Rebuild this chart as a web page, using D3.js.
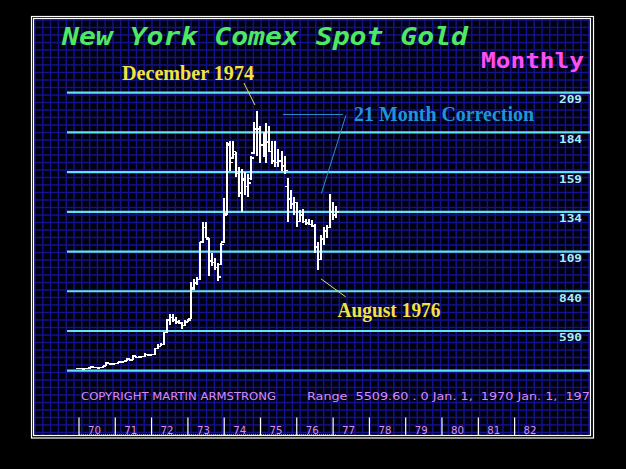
<!DOCTYPE html>
<html>
<head>
<meta charset="utf-8">
<script src="https://cdn.jsdelivr.net/npm/d3@7/dist/d3.min.js"></script>
<style>
  html, body { margin: 0; padding: 0; background: #000; }
  svg { display: block; }
</style>
</head>
<body>
<svg id="chart" width="626" height="469"></svg>
<script>
// ---------------- DATA ----------------
const months = [
  "1970-01","1970-02","1970-03","1970-04","1970-05","1970-06","1970-07","1970-08","1970-09","1970-10","1970-11","1970-12",
  "1971-01","1971-02","1971-03","1971-04","1971-05","1971-06","1971-07","1971-08","1971-09","1971-10","1971-11","1971-12",
  "1972-01","1972-02","1972-03","1972-04","1972-05","1972-06","1972-07","1972-08","1972-09","1972-10","1972-11","1972-12",
  "1973-01","1973-02","1973-03","1973-04","1973-05","1973-06","1973-07","1973-08","1973-09","1973-10","1973-11","1973-12",
  "1974-01","1974-02","1974-03","1974-04","1974-05","1974-06","1974-07","1974-08","1974-09","1974-10","1974-11","1974-12",
  "1975-01","1975-02","1975-03","1975-04","1975-05","1975-06","1975-07","1975-08","1975-09","1975-10","1975-11","1975-12",
  "1976-01","1976-02","1976-03","1976-04","1976-05","1976-06","1976-07","1976-08","1976-09","1976-10","1976-11","1976-12",
  "1977-01","1977-02"
];
const high = [
  35.6,35.5,35.6,35.8,36.7,36.5,36.2,36.1,37.2,39.2,39.0,38.6,
  38.9,39.6,39.8,40.3,41.9,41.5,43.8,43.4,43.0,43.1,44.9,44.5,
  44.4,48.3,51.0,51.6,58.6,66.8,70.0,70.0,67.8,65.8,64.8,65.8,
  66.8,90.0,92.0,93.0,115.3,127.8,127.8,117.3,108.0,104.8,101.7,114.2,
  142.5,178.0,178.8,178.8,171.5,162.0,161.0,159.0,158.0,169.4,190.3,197.5,
  188.0,184.0,190.0,188.0,178.8,178.8,173.6,172.5,169.4,155.5,148.0,143.4,
  140.3,135.0,136.0,129.8,129.8,128.8,126.5,115.0,119.4,124.6,125.7,145.5,
  140.0,137.5
];
const low = [
  35.2,34.8,35.0,35.3,35.6,35.8,35.6,35.5,35.9,37.0,38.0,37.9,
  38.1,38.5,39.1,39.4,39.8,40.4,40.6,42.1,42.0,42.4,42.6,43.5,
  43.6,44.0,47.8,49.3,50.2,58.0,62.5,64.5,63.5,63.5,60.4,62.3,
  64.4,66.5,85.0,88.0,91.2,114.2,117.3,93.4,99.6,97.6,90.3,100.7,
  114.5,132.0,160.0,167.3,155.9,143.4,134.0,144.4,143.4,153.8,170.5,169.4,
  165.0,168.4,165.0,171.5,164.2,162.0,162.0,160.0,158.0,127.8,136.0,132.0,
  124.6,127.8,126.7,125.7,125.7,124.6,108.0,97.5,103.8,113.2,117.3,123.6,
  128.8,130.0
];
const open = [
  35.3,35.5,35.1,35.5,35.7,36.4,36.0,35.8,36.0,37.1,38.8,38.2,
  38.3,38.6,39.4,39.5,40.0,41.4,40.8,43.1,42.3,42.7,42.8,44.3,
  43.8,44.1,48.0,49.2,50.6,58.2,66.0,67.5,66.0,64.5,64.0,62.5,
  64.5,67.0,86.0,89.5,91.5,115.0,124.0,117.0,103.0,102.0,99.0,101.0,
  115.0,132.5,176.0,168.0,170.0,158.0,146.0,154.0,150.0,155.0,171.0,186.0,
  186.0,176.0,181.0,178.0,172.0,166.0,165.0,166.0,163.0,150.0,142.0,139.0,
  140.0,128.0,132.0,128.0,127.0,126.0,125.0,112.0,104.0,117.0,122.0,124.0,
  134.0,132.0
];
const close = [
  35.5,35.0,35.5,35.6,36.5,36.0,35.8,35.9,37.0,38.8,38.2,38.3,
  38.6,39.4,39.5,40.0,41.6,40.7,43.2,42.3,42.7,42.8,44.3,43.8,
  44.1,48.0,49.2,50.6,58.2,65.8,67.5,66.0,64.5,64.0,62.5,64.5,
  66.0,85.0,89.0,91.5,115.0,124.0,118.0,103.0,102.0,99.0,93.0,113.5,
  132.0,177.0,165.0,172.0,158.0,146.0,155.0,150.0,152.0,168.0,186.0,186.5,
  176.0,182.0,178.0,172.0,166.0,165.0,166.0,163.0,160.0,142.0,139.0,140.0,
  128.0,132.0,128.0,127.0,126.0,125.0,112.0,104.0,117.0,122.0,124.0,134.0,
  132.0,134.0
];
const priceTicks = [209, 184, 159, 134, 109, 84, 59, 34];
const priceTickLabels = ["209", "184", "159", "134", "109", "840", "590", ""];
const yearTicks = [1970,1971,1972,1973,1974,1975,1976,1977,1978,1979,1980,1981,1982];
const yearLabels = ["70","71","72","73","74","75","76","77","78","79","80","81","82"];

const titleText = "New York Comex Spot Gold";
const periodText = "Monthly";
const copyrightText = "COPYRIGHT MARTIN ARMSTRONG";
const rangeText = "Range  5509.60 . 0 Jan. 1,  1970 Jan. 1,  1977";
const peakLabel = "December 1974";
const correctionLabel = "21 Month Correction";
const lowLabel = "August 1976";

// ---------------- SETUP ----------------
const svg = d3.select("#chart");
const parse = d3.timeParse("%Y-%m");
const bars = months.map((m, i) => ({
  date: parse(m), high: high[i], low: low[i], open: open[i], close: close[i], key: m
}));

const inner = { x0: 33.5, y0: 18.5, x1: 590.5, y1: 435.5 };

const x = d3.scaleTime()
  .domain([new Date(1970, 0, 1), new Date(1983, 0, 1)])
  .range([79, 79 + 13 * 36.3]);
const y = d3.scaleLinear()
  .domain([34, 209])
  .range([370.7, 92.7]);

// background
svg.append("rect").attr("width", 626).attr("height", 469).attr("fill", "#000");

const defs = svg.append("defs");
defs.append("clipPath").attr("id", "innerClip")
  .append("rect")
  .attr("x", inner.x0 + 0.5).attr("y", inner.y0 + 0.5)
  .attr("width", inner.x1 - inner.x0 - 1).attr("height", inner.y1 - inner.y0 - 1);

const plot = svg.append("g").attr("clip-path", "url(#innerClip)");

plot.append("rect")
  .attr("x", inner.x0).attr("y", inner.y0)
  .attr("width", inner.x1 - inner.x0).attr("height", inner.y1 - inner.y0)
  .attr("fill", "#00000c");

// blue background grid
const gridG = plot.append("g").attr("stroke", "#1616a4").attr("stroke-width", 1.5).attr("opacity", 0.85);
d3.range(35, inner.x1, 7.8).forEach(gx => {
  gridG.append("line").attr("x1", gx).attr("x2", gx).attr("y1", inner.y0).attr("y2", inner.y1);
});
d3.range(20, inner.y1, 7.5).forEach(gy => {
  gridG.append("line").attr("x1", inner.x0).attr("x2", inner.x1).attr("y1", gy).attr("y2", gy);
});

// cyan price levels
plot.append("g").selectAll("line")
  .data(priceTicks)
  .join("line")
  .attr("x1", 67).attr("x2", inner.x1)
  .attr("y1", d => y(d)).attr("y2", d => y(d))
  .attr("stroke", "#62e2ee").attr("stroke-width", 2.2);

plot.append("g").selectAll("text")
  .data(priceTicks.map((d, i) => ({ v: d, label: priceTickLabels[i] })).filter(d => d.label))
  .join("text")
  .attr("x", 582).attr("y", d => y(d.v) + 10.5)
  .attr("text-anchor", "end")
  .attr("font-family", "DejaVu Sans Mono")
  .attr("font-weight", "bold")
  .attr("font-size", 11)
  .attr("fill", "#a8f0fa")
  .attr("textLength", 23)
  .attr("lengthAdjust", "spacingAndGlyphs")
  .text(d => d.label);

// OHLC bars
const barG = plot.append("g").attr("stroke", "#ffffff").attr("shape-rendering", "crispEdges");
barG.selectAll("line.hl")
  .data(bars).join("line").attr("class", "hl")
  .attr("x1", d => x(d.date)).attr("x2", d => x(d.date))
  .attr("y1", d => y(d.high)).attr("y2", d => y(d.low))
  .attr("stroke-width", 2);
barG.selectAll("line.op")
  .data(bars).join("line").attr("class", "op")
  .attr("x1", d => x(d.date) - 3).attr("x2", d => x(d.date))
  .attr("y1", d => y(d.open)).attr("y2", d => y(d.open))
  .attr("stroke-width", 1.5);
barG.selectAll("line.cl")
  .data(bars).join("line").attr("class", "cl")
  .attr("x1", d => x(d.date)).attr("x2", d => x(d.date) + 3)
  .attr("y1", d => y(d.close)).attr("y2", d => y(d.close))
  .attr("stroke-width", 1.5);

// year ticks on the bottom
const axisG = plot.append("g");
axisG.selectAll("line")
  .data(yearTicks).join("line")
  .attr("x1", d => x(new Date(d, 0, 1))).attr("x2", d => x(new Date(d, 0, 1)))
  .attr("y1", 417.5).attr("y2", inner.y1)
  .attr("stroke", "#ffffff").attr("stroke-width", 1.2);
axisG.selectAll("text")
  .data(yearTicks.map((d, i) => ({ d, label: yearLabels[i] })))
  .join("text")
  .attr("x", v => x(new Date(v.d, 0, 1)) + 9)
  .attr("y", 433.5)
  .attr("font-family", "DejaVu Sans")
  .attr("font-size", 10)
  .attr("fill", "#dc8cf0")
  .attr("textLength", 13)
  .attr("lengthAdjust", "spacingAndGlyphs")
  .text(v => v.label);

// dotted data span line at the bottom
axisG.append("line")
  .attr("x1", x(bars[0].date)).attr("x2", x(bars[bars.length - 1].date))
  .attr("y1", 435).attr("y2", 435)
  .attr("stroke", "#ffffff").attr("stroke-width", 1).attr("stroke-dasharray", "1,1");

// copyright line
plot.append("text")
  .attr("x", 81).attr("y", 400)
  .attr("font-family", "DejaVu Sans").attr("font-size", 10)
  .attr("fill", "#d98cf0")
  .attr("textLength", 195).attr("lengthAdjust", "spacingAndGlyphs")
  .text(copyrightText);
plot.append("text")
  .attr("x", 307).attr("y", 400)
  .attr("font-family", "DejaVu Sans").attr("font-size", 10)
  .attr("fill", "#d98cf0")
  .attr("xml:space", "preserve")
  .style("white-space", "pre")
  .attr("textLength", 291).attr("lengthAdjust", "spacingAndGlyphs")
  .text(rangeText);

// titles
plot.append("text")
  .attr("x", 62).attr("y", 45)
  .attr("font-family", "DejaVu Sans Mono").attr("font-style", "italic").attr("font-weight", "bold")
  .attr("font-size", 25).attr("fill", "#4fe862")
  .attr("textLength", 406).attr("lengthAdjust", "spacingAndGlyphs")
  .text(titleText);
plot.append("text")
  .attr("x", 481).attr("y", 68)
  .attr("font-family", "DejaVu Sans Mono").attr("font-weight", "bold")
  .attr("font-size", 22).attr("fill", "#ff4ff0")
  .attr("textLength", 103).attr("lengthAdjust", "spacingAndGlyphs")
  .text(periodText);

// annotations
const peak = bars.find(b => b.key === "1974-12");
const bottom = bars.find(b => b.key === "1976-08");
const rally = bars.find(b => b.key === "1976-12");
const px = x(peak.date), py = y(peak.high);
const bx = x(bottom.date), by = y(bottom.low);
const rx = x(rally.date), ry = y(rally.high);

const ann = plot.append("g").attr("fill", "none");
ann.append("line")
  .attr("x1", px - 13.5).attr("y1", py - 28).attr("x2", px - 2.5).attr("y2", py - 6)
  .attr("stroke", "#e8dc55").attr("stroke-width", 1);
ann.append("line")
  .attr("x1", px + 25.5).attr("y1", py + 3.5).attr("x2", px + 85.5).attr("y2", py + 3.5)
  .attr("stroke", "#2a8fd2").attr("stroke-width", 1);
ann.append("line")
  .attr("x1", px + 88.5).attr("y1", py + 4.5).attr("x2", rx - 8.7).attr("y2", ry)
  .attr("stroke", "#2a8fd2").attr("stroke-width", 1);
ann.append("line")
  .attr("x1", bx + 3).attr("y1", by + 9).attr("x2", bx + 27.7).attr("y2", by + 27)
  .attr("stroke", "#e8dc55").attr("stroke-width", 1);

const serif = "Liberation Serif";
plot.append("text")
  .attr("x", 122).attr("y", 79.5)
  .attr("font-family", serif).attr("font-weight", "bold").attr("font-size", 20)
  .attr("fill", "#f2e342")
  .attr("textLength", 132).attr("lengthAdjust", "spacingAndGlyphs")
  .text(peakLabel);
plot.append("text")
  .attr("x", 354).attr("y", 120.5)
  .attr("font-family", serif).attr("font-weight", "bold").attr("font-size", 20)
  .attr("fill", "#1f95d6")
  .attr("textLength", 180).attr("lengthAdjust", "spacingAndGlyphs")
  .text(correctionLabel);
plot.append("text")
  .attr("x", 337.5).attr("y", 317)
  .attr("font-family", serif).attr("font-weight", "bold").attr("font-size", 20)
  .attr("fill", "#f2e342")
  .attr("textLength", 103).attr("lengthAdjust", "spacingAndGlyphs")
  .text(lowLabel);

// double white frame
svg.append("rect")
  .attr("x", 31.5).attr("y", 16.5).attr("width", 562).attr("height", 421.5)
  .attr("fill", "none").attr("stroke", "#ffffff").attr("stroke-width", 1.2);
svg.append("rect")
  .attr("x", inner.x0).attr("y", inner.y0)
  .attr("width", inner.x1 - inner.x0).attr("height", inner.y1 - inner.y0)
  .attr("fill", "none").attr("stroke", "#ffffff").attr("stroke-width", 1.2);
</script>
</body>
</html>
